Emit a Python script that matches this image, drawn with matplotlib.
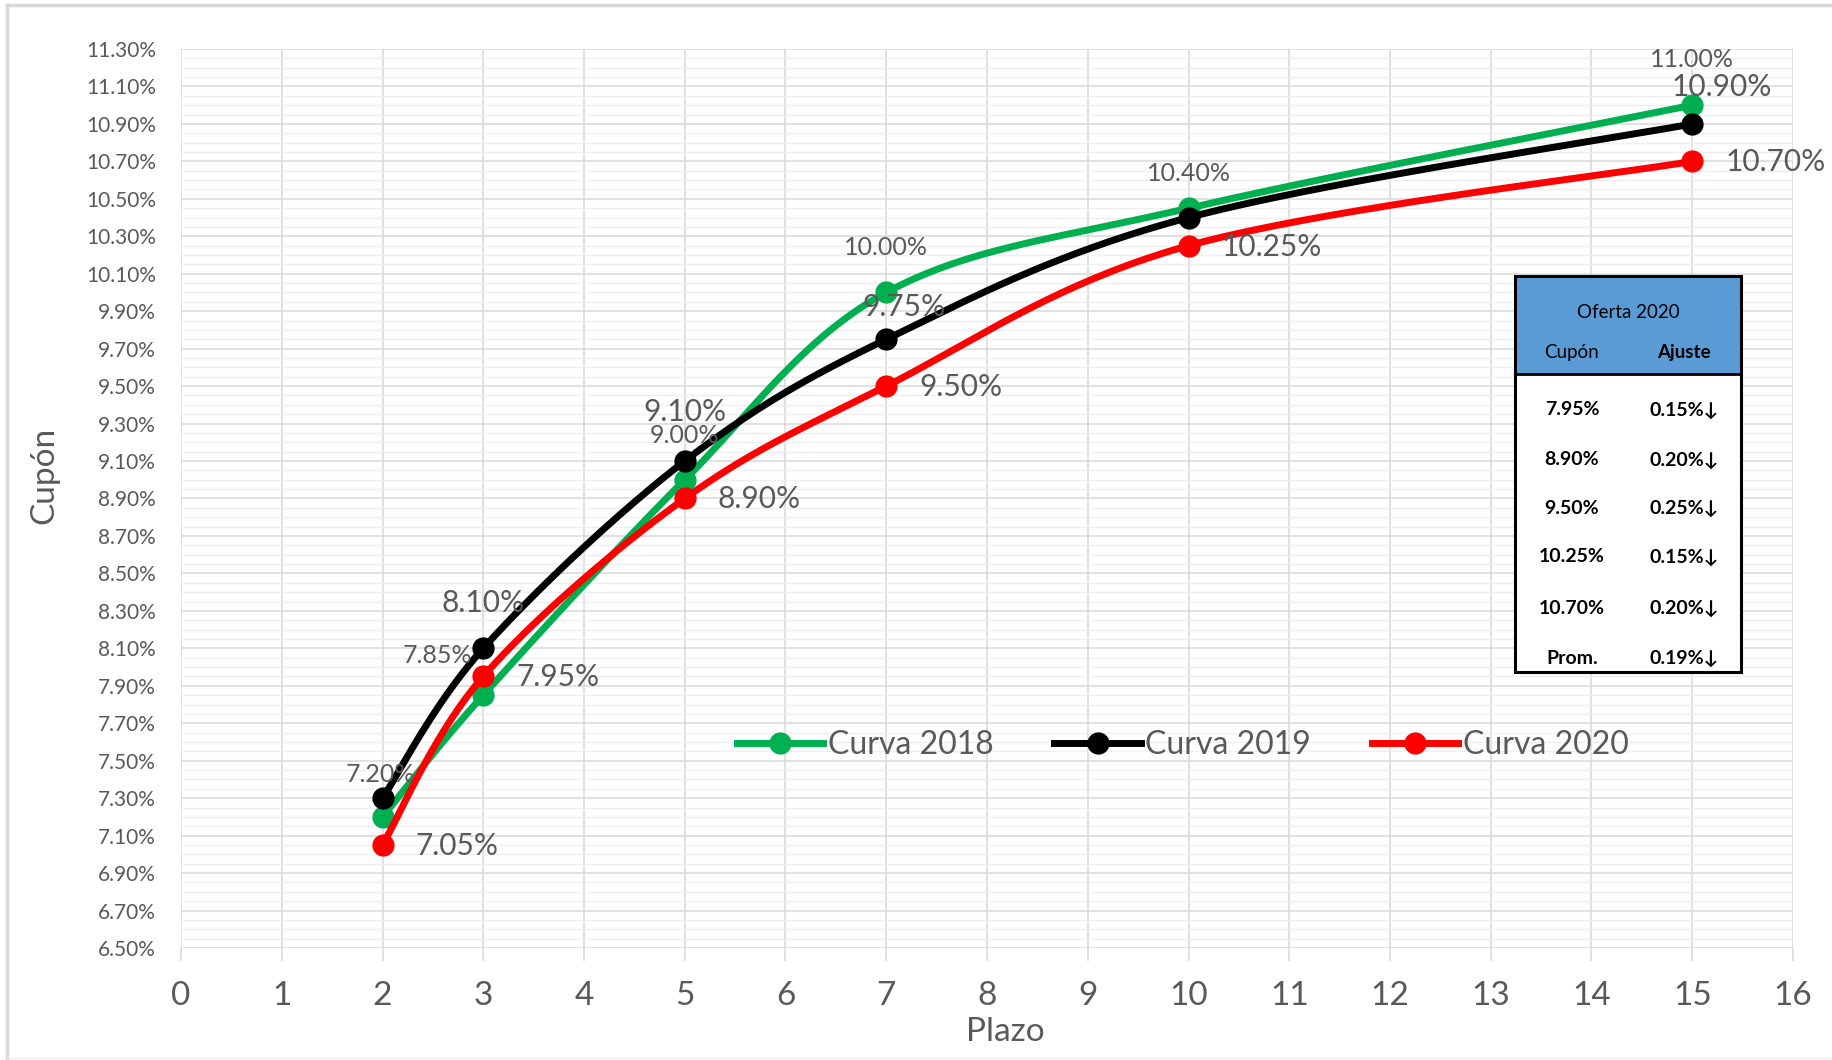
import numpy as np
import matplotlib
matplotlib.use("Agg")
import matplotlib.pyplot as plt
from matplotlib.lines import Line2D
from matplotlib.patches import Rectangle

plt.rcParams["font.family"] = ["Lato", "DejaVu Sans"]

# ---- data -------------------------------------------------------------
plazos = [2, 3, 5, 7, 10, 15]
curva_2018 = [7.20, 7.85, 9.00, 10.00, 10.45, 11.00]
curva_2019 = [7.30, 8.10, 9.10, 9.75, 10.40, 10.90]
curva_2020 = [7.05, 7.95, 8.90, 9.50, 10.25, 10.70]
series_names = ["Curva 2018", "Curva 2019", "Curva 2020"]
series_colors = ["#00B050", "#000000", "#FF0000"]

x_ticks = list(range(0, 17))
y_ticks = [6.50 + 0.20 * i for i in range(25)]

tabla_titulo = "Oferta 2020"
tabla_cupon = [7.95, 8.90, 9.50, 10.25, 10.70]
tabla_ajuste = [0.15, 0.20, 0.25, 0.15, 0.20]
tabla_prom = 0.19

# label placement per series: plazo index -> (dx, dy, font size, ha) in pixels
labels_2018 = {0: (-2, 42, 18, "center"), 1: (-46, 40, 18, "center"),
               2: (0, 44, 18, "center"), 3: (0, 45, 18, "center"),
               5: (0, 46, 18, "center")}
labels_2019 = {1: (0, 45, 21.5, "center"), 2: (0, 49, 21.5, "center"),
               3: (18, 32, 21.5, "center"), 4: (0, 44, 18, "center"),
               5: (29, 37, 21.5, "center")}
labels_2020 = {i: (33, -1, 21.5, "left") for i in range(6)}

# ---- figure -----------------------------------------------------------
W, H = 1833, 1060
fig = plt.figure(figsize=(W / 100, H / 100), dpi=100)
fig.patch.set_facecolor("white")

L, R, T, B = 181, 1793, 49, 948
ax = fig.add_axes([L / W, 1 - B / H, (R - L) / W, (B - T) / H])
ax.set_xlim(0, 16)
ax.set_ylim(6.5, 11.3)

grid_c = "#D9D9D9"
ax.set_xticks(x_ticks)
ax.set_yticks(y_ticks)
ax.set_yticks(np.arange(6.5, 11.3001, 0.05), minor=True)
ax.set_yticklabels([f"{v:.2f}%" for v in y_ticks])
ax.grid(True, which="major", color=grid_c, linewidth=1.1)
ax.grid(True, which="minor", axis="y", color="#EFEFEF", linewidth=1.0)
ax.set_axisbelow(True)
for s in ax.spines.values():
    s.set_visible(False)
ax.tick_params(axis="y", which="both", length=0, pad=18, labelsize=15,
               labelcolor="#595959")
ax.tick_params(axis="x", which="major", length=9, width=1.1, color=grid_c,
               pad=15, labelsize=24, labelcolor="#595959")
ax.tick_params(axis="x", which="minor", length=0)


def smooth(ax, xs, ys, n=40):
    pts = ax.transData.transform(np.column_stack([xs, ys]))
    P = np.vstack([pts[0], pts, pts[-1]])
    out = []
    t = np.linspace(0, 1, n)[:, None]
    for i in range(len(pts) - 1):
        p0, p1, p2, p3 = P[i], P[i + 1], P[i + 2], P[i + 3]
        c1 = p1 + (p2 - p0) / 6
        c2 = p2 - (p3 - p1) / 6
        seg = ((1 - t) ** 3) * p1 + 3 * ((1 - t) ** 2) * t * c1 \
            + 3 * (1 - t) * (t ** 2) * c2 + (t ** 3) * p2
        out.append(seg if i == 0 else seg[1:])
    return ax.transData.inverted().transform(np.vstack(out))


all_series = [curva_2018, curva_2019, curva_2020]
all_labels = [labels_2018, labels_2019, labels_2020]
for k, (vals, col) in enumerate(zip(all_series, series_colors)):
    curve = smooth(ax, plazos, vals)
    ax.plot(curve[:, 0], curve[:, 1], color=col, linewidth=5,
            solid_capstyle="round", zorder=3 + k)
    ax.plot(plazos, vals, linestyle="none", marker="o", markersize=15,
            color=col, zorder=3 + k)
    for idx, (dx, dy, fs, ha) in all_labels[k].items():
        ax.annotate(f"{vals[idx]:.2f}%", (plazos[idx], vals[idx]),
                    xytext=(dx, dy), textcoords="offset pixels",
                    ha=ha, va="center", fontsize=fs, color="#595959",
                    zorder=10)

handles = [Line2D([], [], color=c, linewidth=5, marker="o", markersize=15)
           for c in series_colors]
leg = ax.legend(handles, series_names, loc="center",
                bbox_to_anchor=(0.6215, 0.2258), ncol=3, frameon=False,
                fontsize=23, handlelength=2.7, handletextpad=0.15,
                columnspacing=1.9, labelcolor="#595959")
leg.set_zorder(12)

fig.text(1005 / W, 1 - 1032 / H, "Plazo", ha="center", va="center",
         fontsize=24, color="#595959")
fig.text(44 / W, 1 - 475 / H, "Cupón", ha="center", va="center",
         fontsize=24, color="#595959", rotation=90)

# ---- offer table ------------------------------------------------------
tx0, ty0, tw, th = 1515, 276, 226, 396
tax = fig.add_axes([tx0 / W, 1 - (ty0 + th) / H, tw / W, th / H])
tax.set_xlim(0, tw)
tax.set_ylim(th, 0)
tax.axis("off")
tax.set_zorder(20)
tax.add_patch(Rectangle((0, 0), tw, th, facecolor="white", edgecolor="none"))
tax.add_patch(Rectangle((0, 0), tw, 98, facecolor="#5B9BD5", edgecolor="none"))
tax.plot([0, tw], [98, 98], color="black", linewidth=2)
tax.add_patch(Rectangle((0, 0), tw, th, facecolor="none", edgecolor="black",
                        linewidth=2.2, clip_on=False))
tax.text(tw / 2, 37, tabla_titulo, ha="center", va="center", fontsize=13.5,
         color="black")
tax.text(57, 77, "Cupón", ha="center", va="center", fontsize=13.5,
         color="black")
tax.text(169, 77, "Ajuste", ha="center", va="center", fontsize=13.5,
         fontweight="bold", color="black")
row_y = [134, 184, 232, 281, 332, 382]
cells = [f"{v:.2f}%" for v in tabla_cupon] + ["Prom."]
adj = [f"{v:.2f}%↓" for v in tabla_ajuste + [tabla_prom]]
for y, c, a in zip(row_y, cells, adj):
    tax.text(57, y, c, ha="center", va="center", fontsize=14,
             fontweight="bold", color="black")
    tax.text(169, y, a, ha="center", va="center", fontsize=14,
             fontweight="bold", color="black")

# ---- chart frame ------------------------------------------------------
frame_c = "#D9D9D9"
fig.add_artist(Line2D([7 / W, 1], [1 - 5 / H, 1 - 5 / H], color=frame_c,
                      linewidth=2.5, transform=fig.transFigure))
fig.add_artist(Line2D([7 / W, 7 / W], [1 - 5 / H, 1 - 1058 / H],
                      color=frame_c, linewidth=2.5, transform=fig.transFigure))
fig.add_artist(Line2D([7 / W, 1], [1 - 1058 / H, 1 - 1058 / H],
                      color="#EEEEEE", linewidth=1, transform=fig.transFigure))

fig.savefig("out.png", dpi=100)
